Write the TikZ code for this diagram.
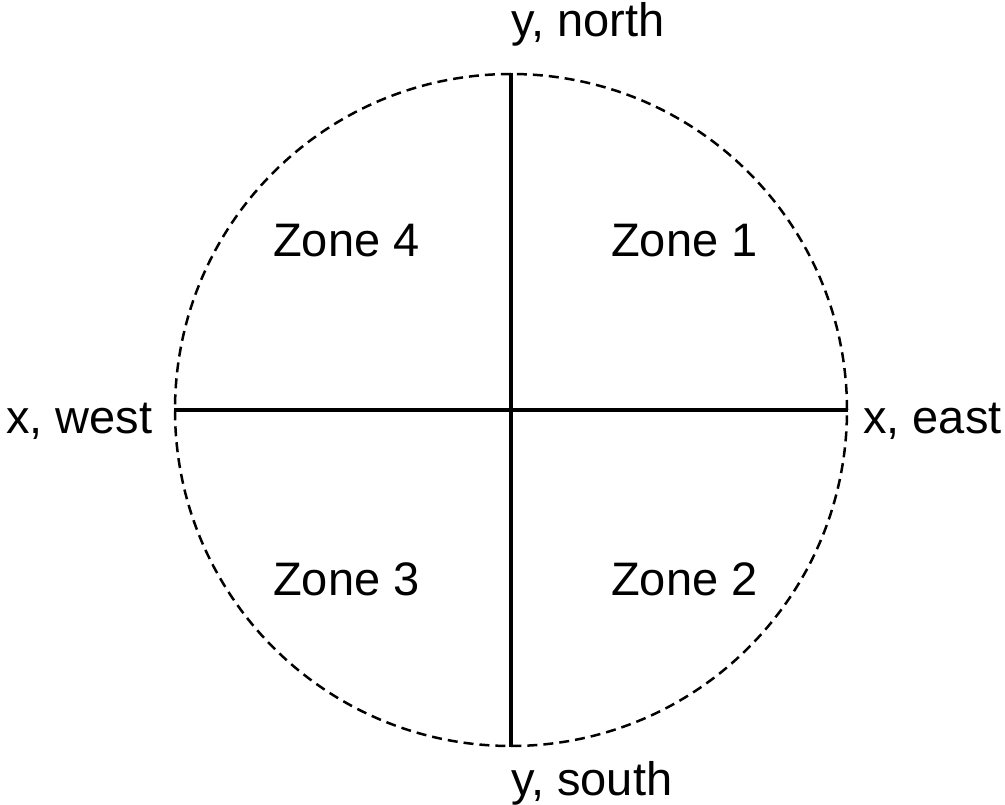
\documentclass[tikz,border=0pt]{standalone}
\usepackage{fontspec}
\setmainfont{Liberation Sans}
\begin{document}
\begin{tikzpicture}[x=1pt,y=-1pt,
  lbl/.style={inner sep=0pt,anchor=base west,font=\fontsize{47}{56}\selectfont},
  axis/.style={line width=3.5pt},
  rim/.style={draw,circle,line width=2.5pt,dash pattern=on 10pt off 6pt,minimum size=672pt,inner sep=0pt}]
\useasboundingbox (0,0) rectangle (1005,805);
\node[rim] (c) at (511,410) {};
\draw[axis] (c.north) -- (c.south);
\draw[axis] (c.west) -- (c.east);
\node[lbl] (n) at (511,37) {y, north};
\node[lbl] (s) at (511,795) {y, south};
\node[lbl] (w) at (6,433) {x, west};
\node[lbl] (e) at (863,433) {x, east};
\node[lbl] (z4) at (273,257) {Zone 4};
\node[lbl] (z1) at (611,257) {Zone 1};
\node[lbl] (z3) at (273,595) {Zone 3};
\node[lbl] (z2) at (611,595) {Zone 2};
\end{tikzpicture}
\end{document}
